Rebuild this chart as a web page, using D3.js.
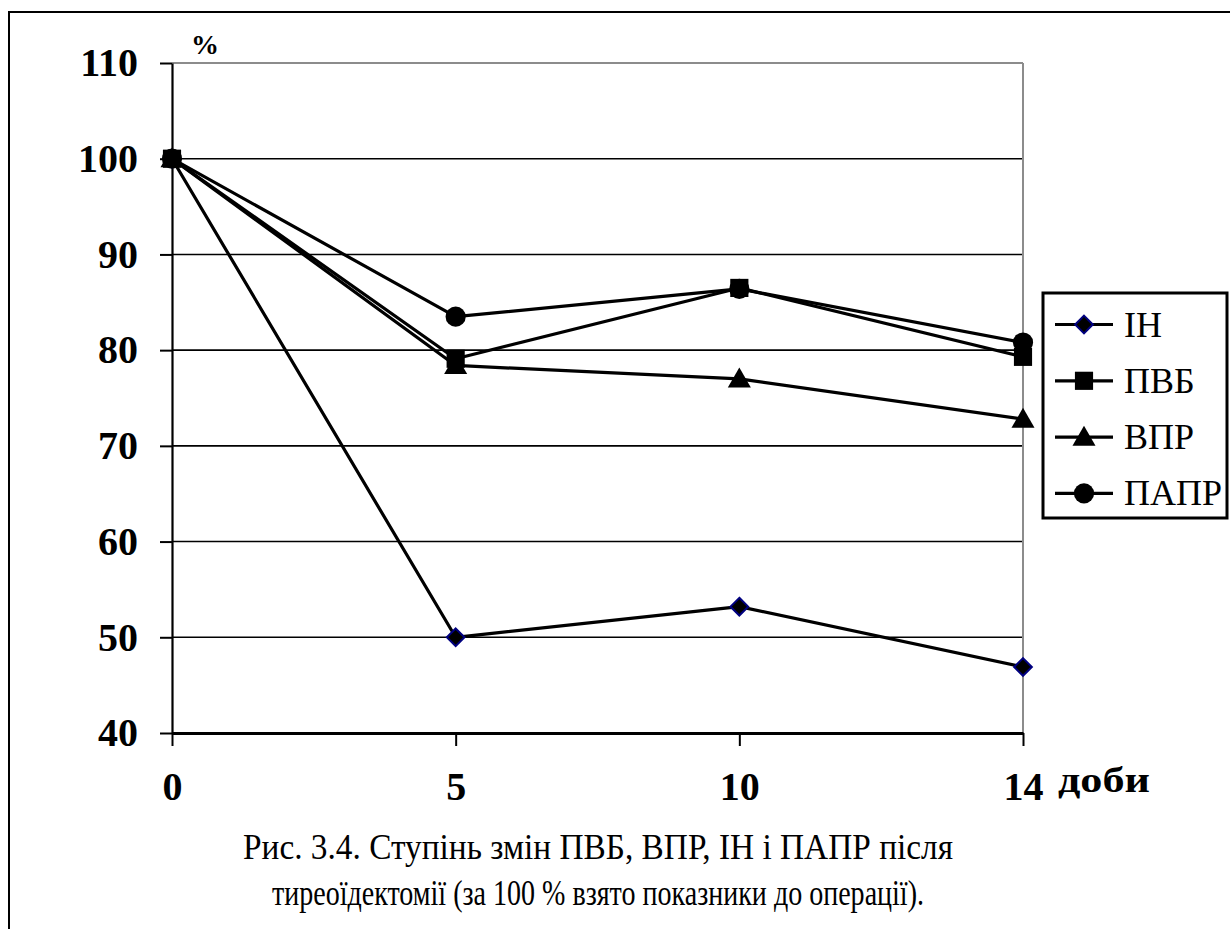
<!DOCTYPE html>
<html>
<head>
<meta charset="utf-8">
<script src="https://cdn.jsdelivr.net/npm/d3@7"></script>
<style>
  html, body { margin: 0; padding: 0; background: #fff; }
  svg { display: block; }
  svg text { font-family: "Liberation Serif", "DejaVu Serif", "Times New Roman", serif !important; }
</style>
</head>
<body>
<svg id="chart" width="1230" height="929"></svg>
<script>
// Days after thyroidectomy and indicators as % of the pre-operative level
const days = ["0", "5", "10", "14"];
const yTicks = [40, 50, 60, 70, 80, 90, 100, 110];
const seriesNames = ["ІН", "ПВБ", "ВПР", "ПАПР"];
const valuesIN   = [100, 50.0, 53.2, 46.9];
const valuesPVB  = [100, 79.1, 86.5, 79.3];
const valuesVPR  = [100, 78.4, 77.0, 72.8];
const valuesPAPR = [100, 83.5, 86.4, 80.8];
const captionLines = [
  "Рис. 3.4. Ступінь змін ПВБ, ВПР, ІН і ПАПР після",
  "тиреоїдектомії (за 100 % взято показники до операції)."
];

const series = [
  { name: seriesNames[0], values: valuesIN,   marker: "diamond" },
  { name: seriesNames[1], values: valuesPVB,  marker: "square" },
  { name: seriesNames[2], values: valuesVPR,  marker: "triangle" },
  { name: seriesNames[3], values: valuesPAPR, marker: "circle" }
];

const svg = d3.select("#chart");
const plotLeft = 172, plotRight = 1023, plotTop = 63, plotBottom = 733;

const x = d3.scalePoint().domain(days).range([plotLeft, plotRight]);
const y = d3.scaleLinear().domain([40, 110]).range([plotBottom, plotTop]);

// outer frame
svg.append("rect")
  .attr("x", 9).attr("y", 12).attr("width", 1240).attr("height", 940)
  .attr("fill", "none").attr("stroke", "#000").attr("stroke-width", 2);

// horizontal gridlines
svg.append("g").selectAll("line")
  .data(yTicks.filter(v => v > 40))
  .join("line")
  .attr("x1", plotLeft).attr("x2", plotRight)
  .attr("y1", d => y(d)).attr("y2", d => y(d))
  .attr("stroke", d => d === 110 ? "#8c8c8c" : "#000")
  .attr("stroke-width", d => d === 110 ? 2 : 1.6);

// right plot border
svg.append("line")
  .attr("x1", plotRight).attr("x2", plotRight).attr("y1", plotTop).attr("y2", plotBottom)
  .attr("stroke", "#8c8c8c").attr("stroke-width", 2);

// y axis
const yAxis = svg.append("g")
  .attr("transform", `translate(${plotLeft},0)`)
  .call(d3.axisLeft(y).tickValues(yTicks).tickSize(12).tickSizeOuter(0).tickPadding(22));
yAxis.attr("font-family", null);
yAxis.select(".domain").attr("stroke", "#000").attr("stroke-width", 2.2);
yAxis.selectAll(".tick line").attr("stroke", "#000").attr("stroke-width", 2);
yAxis.selectAll(".tick text")
  .attr("fill", "#000")
  .style("font-size", "40px").style("font-weight", "bold");

// x axis
const xAxis = svg.append("g")
  .attr("transform", `translate(0,${plotBottom})`)
  .call(d3.axisBottom(x).tickSize(13).tickSizeOuter(0).tickPadding(26));
xAxis.attr("font-family", null);
xAxis.select(".domain").attr("stroke", "#000").attr("stroke-width", 3);
xAxis.selectAll(".tick line").attr("stroke", "#000").attr("stroke-width", 2);
xAxis.selectAll(".tick text")
  .attr("fill", "#000")
  .style("font-size", "40px").style("font-weight", "bold");

// axis titles
svg.append("text")
  .attr("x", 205).attr("y", 54).attr("text-anchor", "middle")
  .style("font-size", "28px").style("font-weight", "bold")
  .text("%");
svg.append("text")
  .attr("x", 1058).attr("y", 792)
  .attr("textLength", 92).attr("lengthAdjust", "spacingAndGlyphs")
  .style("font-size", "36px").style("font-weight", "bold")
  .text("доби");

// marker symbols
function markerPath(kind) {
  const sym = {
    diamond: d3.symbolDiamond2,
    square: d3.symbolSquare,
    triangle: d3.symbolTriangle,
    circle: d3.symbolCircle
  }[kind];
  const size = { diamond: 200, square: 330, triangle: 230, circle: 320 }[kind];
  return d3.symbol(sym, size)();
}
function drawMarker(g, kind) {
  const p = g.append("path").attr("d", markerPath(kind));
  if (kind === "diamond") {
    p.attr("fill", "#000").attr("stroke", "#000080").attr("stroke-width", 2);
  } else {
    p.attr("fill", "#000");
  }
  if (kind === "triangle") p.attr("transform", "translate(0,2)");
  return p;
}

// series lines and markers (later series drawn on top)
const drawOrder = [0, 3, 2, 1];
const line = d3.line().x((d, i) => x(days[i])).y(d => y(d));
const plot = svg.append("g");
drawOrder.forEach(k => {
  const s = series[k];
  const g = plot.append("g");
  g.append("path")
    .attr("d", line(s.values))
    .attr("fill", "none").attr("stroke", "#000").attr("stroke-width", 3.2)
    .attr("stroke-linejoin", "round");
  s.values.forEach((v, i) => {
    const mg = g.append("g").attr("transform", `translate(${x(days[i])},${y(v)})`);
    drawMarker(mg, s.marker);
  });
});

// legend
const legend = svg.append("g");
legend.append("rect")
  .attr("x", 1043).attr("y", 293).attr("width", 184).attr("height", 225)
  .attr("fill", "#fff").attr("stroke", "#000").attr("stroke-width", 3);
series.forEach((s, i) => {
  const cy = 324.5 + i * 56.3;
  const row = legend.append("g").attr("transform", `translate(0,${cy})`);
  row.append("line")
    .attr("x1", 1055).attr("x2", 1113).attr("y1", 0).attr("y2", 0)
    .attr("stroke", "#000").attr("stroke-width", 3.2);
  const mg = row.append("g").attr("transform", "translate(1084,0)");
  drawMarker(mg, s.marker);
  row.append("text")
    .attr("x", 1124).attr("y", 12)
    .style("font-size", "36px")
    .text(s.name);
});

// caption, two centred lines fitted to their printed widths
const captionWidths = [710, 652];
svg.append("g").selectAll("text")
  .data(captionLines)
  .join("text")
  .attr("x", 598).attr("y", (d, i) => 859 + i * 46)
  .attr("text-anchor", "middle")
  .attr("textLength", (d, i) => captionWidths[i])
  .attr("lengthAdjust", "spacingAndGlyphs")
  .style("font-size", "35px")
  .text(d => d);
</script>
</body>
</html>
